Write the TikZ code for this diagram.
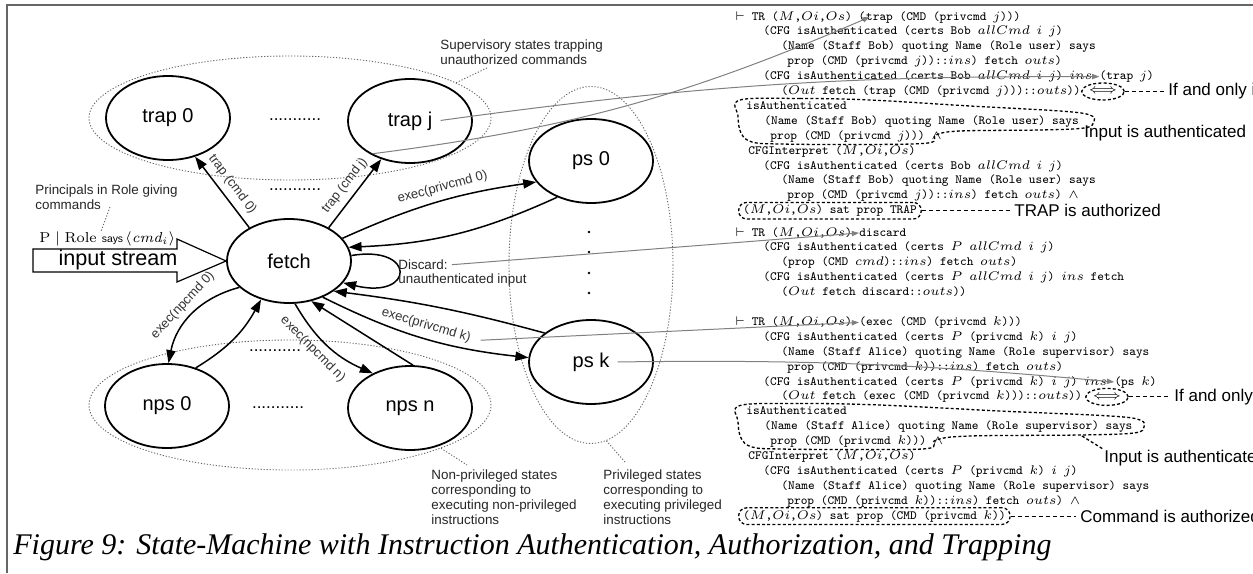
\RequirePackage{fix-cm}
\documentclass[tikz,border=0pt]{standalone}
\usepackage{fontspec}
\setsansfont{Liberation Sans}
\newfontfamily\captionserif{Liberation Serif}
\usetikzlibrary{arrows.meta,shapes.geometric}

\begin{document}
\begin{tikzpicture}[x=0.5pt, y=0.5pt,
  stbox/.style={ellipse, draw, line width=0.9pt, minimum width=62pt, minimum height=42pt,
    inner sep=0pt, font=\sffamily\fontsize{10}{12}\selectfont},
  stlabel/.style={inner sep=2pt, font=\sffamily\fontsize{10}{12}\selectfont},
  region/.style={ellipse, draw=black!60, line width=0.45pt, dash pattern=on 0.6pt off 0.9pt, inner sep=0pt},
  leader/.style={draw=black!60, line width=0.45pt, dash pattern=on 0.6pt off 0.9pt},
  trans/.style={line width=0.75pt, -{Triangle[length=6.5pt,width=4.6pt]}},
  elabel/.style={font=\sffamily\fontsize{6.5}{7.5}\selectfont, text=black!80, inner sep=3pt, sloped},
  note/.style={font=\sffamily\fontsize{6.7}{7.5}\selectfont, align=left, anchor=west, inner sep=0pt, text=black!85},
  codeline/.style={font=\ttfamily\fontsize{6.3}{7.5}\selectfont, anchor=west, inner sep=0pt, execute at begin node=\strut},
  remark/.style={font=\sffamily\fontsize{8.5}{10}\selectfont, anchor=west, inner sep=0pt},
  pointer/.style={draw=black!50, line width=0.5pt, shorten <=2pt, -{Triangle[length=3.6pt,width=2.6pt]}},
  hilite/.style={draw, line width=0.65pt, dash pattern=on 1.5pt off 1.1pt},
  dashlink/.style={draw, line width=0.55pt, dash pattern=on 2pt off 1.5pt},
  dotrow/.style={font=\sffamily\fontsize{8.5}{10}\selectfont, inner sep=0pt}
]
\useasboundingbox (0,0) rectangle (1253,-573);
\clip (0,0) rectangle (1253,-573);
\fill[white] (0,0) rectangle (1253,-573);

% frame of the figure
\draw[black!60, line width=0.7pt] (7,-573) -- (7,-5) -- (1253,-5);

% groups of states
\node[region, minimum width=201pt, minimum height=62pt] (trapgrp) at (290,-118) {};
\node[region, minimum width=201pt, minimum height=65pt] (npsgrp) at (290,-405) {};
\node[region, minimum width=82pt, minimum height=178.5pt] (psgrp) at (591,-265) {};

% states
\node[stbox] (trap0) at (168,-118) {trap 0};
\node[stbox] (trapj) at (410,-121) {};
\node[stlabel] (trapjl) at (trapj) {trap j};
\node[stbox] (ps0) at (591,-161) {ps 0};
\node[stbox] (psk) at (591,-362) {};
\node[stlabel] (pskl) at (psk) {ps k};
\node[stbox] (fetch) at (289,-261) {fetch};
\node[stbox] (nps0) at (167,-406) {nps 0};
\node[stbox] (npsn) at (410,-408) {nps n};

% elided states
\node[dotrow] (dotsa) at (295,-120) {...........};
\node[dotrow] (dotsb) at (295,-190) {...........};
\node[dotrow] (dotsc) at (275,-351) {...........};
\node[dotrow] (dotsd) at (278,-408) {...........};
\foreach \yy in {232,252,273,293} \fill (589,-\yy) circle [radius=0.65pt];

% group notes
\node[note] (suplbl) at (440,-52.5) {Supervisory states trapping\\unauthorized commands};
\coordinate (supfoot) at (487,-68);
\draw[leader] (supfoot) -- (trapgrp.12);
\node[note] (nplbl) at (431,-497) {Non-privileged states\\corresponding to\\executing non-privileged\\instructions};
\coordinate (npfoot) at (467,-465);
\draw[leader] (npsgrp.-16) -- (npfoot);
\node[note] (plbl) at (603,-497) {Privileged states\\corresponding to\\executing privileged\\instructions};
\coordinate (pfoot) at (625,-462);
\draw[leader] (psgrp.-85) -- (pfoot);

% input stream
\node[note] (princlbl) at (35,-197.5) {Principals in Role giving\\commands};
\node[anchor=base west, inner sep=0pt, font=\fontsize{7.2}{8.6}\selectfont] (prole) at (39,-242)
  {$\mathrm{P}\mid\mathrm{Role}$\hspace{2.5pt}{\sffamily\fontsize{5.2}{6}\selectfont says}\hspace{1pt}$\langle\mathit{cmd}_i\rangle$};
\coordinate (princfoot) at (110,-207);
\draw[leader] (princfoot) -- ([xshift=-3pt]prole.north);
\draw[line width=0.6pt, fill=white] (33,-249) -- (177,-249) -- (177,-239) -- (fetch.west)
  -- (177,-282) -- (177,-272) -- (33,-272) -- cycle;
\node[inner sep=0pt, font=\sffamily\fontsize{10.8}{13}\selectfont] (instream) at (118,-260) {input stream};

% transitions
\draw[trans] (fetch.140) -- node[elabel, above] (lbltrap0) {trap (cmd 0)} (trap0.-55);
\draw[trans] (fetch.40) -- node[elabel, above] (lbltrapj) {trap (cmd j)} (trapj.-127);
\draw[trans] (fetch.23) to[bend left=8] node[elabel, above, pos=0.55] (lblp0) {exec(privcmd 0)} (ps0.-159);
\draw[trans] (ps0.-133) to[bend left=11] (fetch.13);
\draw[trans] (fetch.5) .. controls +(65,11) and +(72,-17) .. (fetch.-22);
\draw[trans] (psk.148) to[bend right=4] (fetch.-34);
\draw[trans] (fetch.-47) to[bend right=10] node[elabel, above, pos=0.5] (lblpk) {exec(privcmd k)} (psk.176);
\draw[trans] (npsn.86) -- (fetch.-61);
\draw[trans] (fetch.-82) to[bend right=18] node[elabel, below, pos=0.42] (lblnpn) {exec(npcmd n)} (npsn.137);
\draw[trans] (fetch.-152) to[bend right=32] node[elabel, above, pos=0.5] (lblnp0) {exec(npcmd 0)} (nps0.88);
\draw[trans] (nps0.53) to[bend right=15] (fetch.-126);

\node[note] (discardlbl) at (398,-265) {Discard:};
\node[note] (unauthlbl) at (398,-280) {unauthenticated input};

% rules: trapping an unauthorized command
\node[codeline] (b1l1) at (735,-17) {$\vdash$ TR ($M$,$Oi$,$Os$) (};
\node[codeline] (b1l1b) at (b1l1.east) {trap (CMD (privcmd $j$)))};
\node[codeline] (b1l2) at (763,-31.9) {(CFG isAuthenticated (certs Bob $allCmd$ $i$ $j$)};
\node[codeline] (b1l3) at (781,-46.8) {(Name (Staff Bob) quoting Name (Role user) says};
\node[codeline] (b1l4) at (787,-61.7) {prop (CMD (privcmd $j$))::$ins$) fetch $outs$)};
\node[codeline] (b1l5) at (763,-76.6) {(CFG isAuthenticated (certs Bob $allCmd$ $i$ $j$) $ins$\ \null};
\node[codeline] (b1l5b) at (b1l5.east) {(trap $j$)};
\node[codeline] (b1l6) at (781,-91.5) {($Out$ fetch (trap (CMD (privcmd $j$)))::$outs$))};
\node[codeline] (b1l7) at (746,-106.4) {isAuthenticated};
\node[codeline] (b1l8) at (764,-121.3) {(Name (Staff Bob) quoting Name (Role user) says};
\node[codeline] (b1l9) at (770,-136.2) {prop (CMD (privcmd $j$))) $\wedge$};
\node[codeline] (b1l10) at (748,-151.1) {CFGInterpret ($M$,$Oi$,$Os$)};
\node[codeline] (b1l11) at (763,-166) {(CFG isAuthenticated (certs Bob $allCmd$ $i$ $j$)};
\node[codeline] (b1l12) at (781,-180.9) {(Name (Staff Bob) quoting Name (Role user) says};
\node[codeline] (b1l13) at (787,-195.8) {prop (CMD (privcmd $j$))::$ins$) fetch $outs$) $\wedge$};
\node[codeline, hilite, rounded corners=4pt, inner xsep=2.2pt, inner ysep=0.4pt] (b1l14) at (738,-210.7)
  {($M$,$Oi$,$Os$) sat prop TRAP};

% rules: discarding unauthenticated input
\node[codeline] (b2l1) at (735,-233) {$\vdash$ TR ($M$,$Oi$,$Os$)\ \null};
\node[codeline] (b2l1b) at (b2l1.east) {discard};
\node[codeline] (b2l2) at (763,-247.9) {(CFG isAuthenticated (certs $P$ $allCmd$ $i$ $j$)};
\node[codeline] (b2l3) at (781,-262.8) {(prop (CMD $cmd$)::$ins$) fetch $outs$)};
\node[codeline] (b2l4) at (763,-277.7) {(CFG isAuthenticated (certs $P$ $allCmd$ $i$ $j$) $ins$ fetch};
\node[codeline] (b2l5) at (781,-292.6) {($Out$ fetch discard::$outs$))};

% rules: executing an authorized privileged command
\node[codeline] (b3l1) at (735,-322.4) {$\vdash$ TR ($M$,$Oi$,$Os$)\ \null};
\node[codeline] (b3l1b) at (b3l1.east) {(exec (CMD (privcmd $k$)))};
\node[codeline] (b3l2) at (763,-337.3) {(CFG isAuthenticated (certs $P$ (privcmd $k$) $i$ $j$)};
\node[codeline] (b3l3) at (781,-352.2) {(Name (Staff Alice) quoting Name (Role supervisor) says};
\node[codeline] (b3l4) at (787,-367.1) {prop (CMD (privcmd $k$))::$ins$) fetch $outs$)};
\node[codeline] (b3l5) at (763,-382) {(CFG isAuthenticated (certs $P$ (privcmd $k$) $i$ $j$) $ins$\ \null};
\node[codeline] (b3l5b) at (b3l5.east) {(ps $k$)};
\node[codeline] (b3l6) at (781,-396.9) {($Out$ fetch (exec (CMD (privcmd $k$)))::$outs$))};
\node[codeline] (b3l7) at (746,-411.8) {isAuthenticated};
\node[codeline] (b3l8) at (764,-426.7) {(Name (Staff Alice) quoting Name (Role supervisor) says};
\node[codeline] (b3l9) at (770,-441.6) {prop (CMD (privcmd $k$))) $\wedge$};
\node[codeline] (b3l10) at (748,-456.5) {CFGInterpret ($M$,$Oi$,$Os$)};
\node[codeline] (b3l11) at (763,-471.4) {(CFG isAuthenticated (certs $P$ (privcmd $k$) $i$ $j$)};
\node[codeline] (b3l12) at (781,-486.3) {(Name (Staff Alice) quoting Name (Role supervisor) says};
\node[codeline] (b3l13) at (787,-501.2) {prop (CMD (privcmd $k$))::$ins$) fetch $outs$) $\wedge$};
\node[codeline, hilite, rounded corners=4pt, inner xsep=2.2pt, inner ysep=0.4pt] (b3l14) at (738,-516.1)
  {($M$,$Oi$,$Os$) sat prop (CMD (privcmd $k$))};

% highlighted parts of the rules and their remarks
\node[ellipse, hilite, inner sep=0.5pt, minimum width=15pt, minimum height=8.5pt,
  font=\fontsize{6.3}{7.5}\selectfont] (iff1) at (1103,-91.5) {$\Longleftrightarrow$};
\node[remark] (iffl1) at (1168,-91.5) {If and only if};
\draw[dashlink, shorten >=2pt] (iff1.east) -- (iffl1.west);
\node[ellipse, hilite, inner sep=0.5pt, minimum width=15pt, minimum height=8.5pt,
  font=\fontsize{6.3}{7.5}\selectfont] (iff3) at (1107,-396.9) {$\Longleftrightarrow$};
\node[remark] (iffl3) at (1174,-396.9) {If and only if};
\draw[dashlink, shorten >=2pt] (iff3.east) -- (iffl3.west);

\draw[hilite] plot[smooth cycle, tension=0.6] coordinates {
  (740,-100) (800,-98.5) (870,-100) (970,-106) (1060,-111) (1090,-115) (1094,-122)
  (1084,-128) (1040,-130) (960,-131) (936,-135) (928,-143) (860,-144.5) (780,-144)
  (752,-142) (741,-133) (738,-116)};
\node[remark] (auth1) at (1084,-133) {Input is authenticated};

\draw[hilite] plot[smooth cycle, tension=0.6] coordinates {
  (740,-405.5) (800,-403.5) (880,-405) (1000,-411) (1110,-416) (1140,-420) (1144,-427)
  (1134,-433) (1080,-435) (970,-436) (936,-440) (928,-448.5) (860,-449.5) (780,-449)
  (752,-447) (741,-438) (738,-421)};
\node[remark] (auth3) at (1104,-458) {Input is authenticated};
\draw[hilite] (1082,-436) -- (auth3.north west);

\node[remark] (trapok) at (1014,-210.7) {TRAP is authorized};
\draw[dashlink, shorten >=2pt] (b1l14.east) -- (trapok.west);
\node[remark] (cmdok) at (1080,-516.1) {Command is authorized};
\draw[dashlink, shorten >=2pt] (b3l14.east) -- (cmdok.west);

% pointers from the state machine into the rules
\draw[pointer] (lbltrapj.east) to[bend right=8] ([xshift=2pt]b1l1b.west);
\draw[pointer] (trapjl.east) to[bend left=4] (b1l5b.west);
\draw[pointer] (discardlbl.east) -- (b2l1b.west);
\draw[pointer] (lblpk.east) -- (b3l1b.west);
\draw[pointer] (pskl.east) to[bend left=3] (b3l5b.west);

% caption
\node[anchor=west, inner sep=0pt, font=\captionserif\itshape\fontsize{15}{18}\selectfont] (caption) at (13,-547)
  {Figure 9: State-Machine with Instruction Authentication, Authorization, and Trapping};
\end{tikzpicture}
\end{document}
